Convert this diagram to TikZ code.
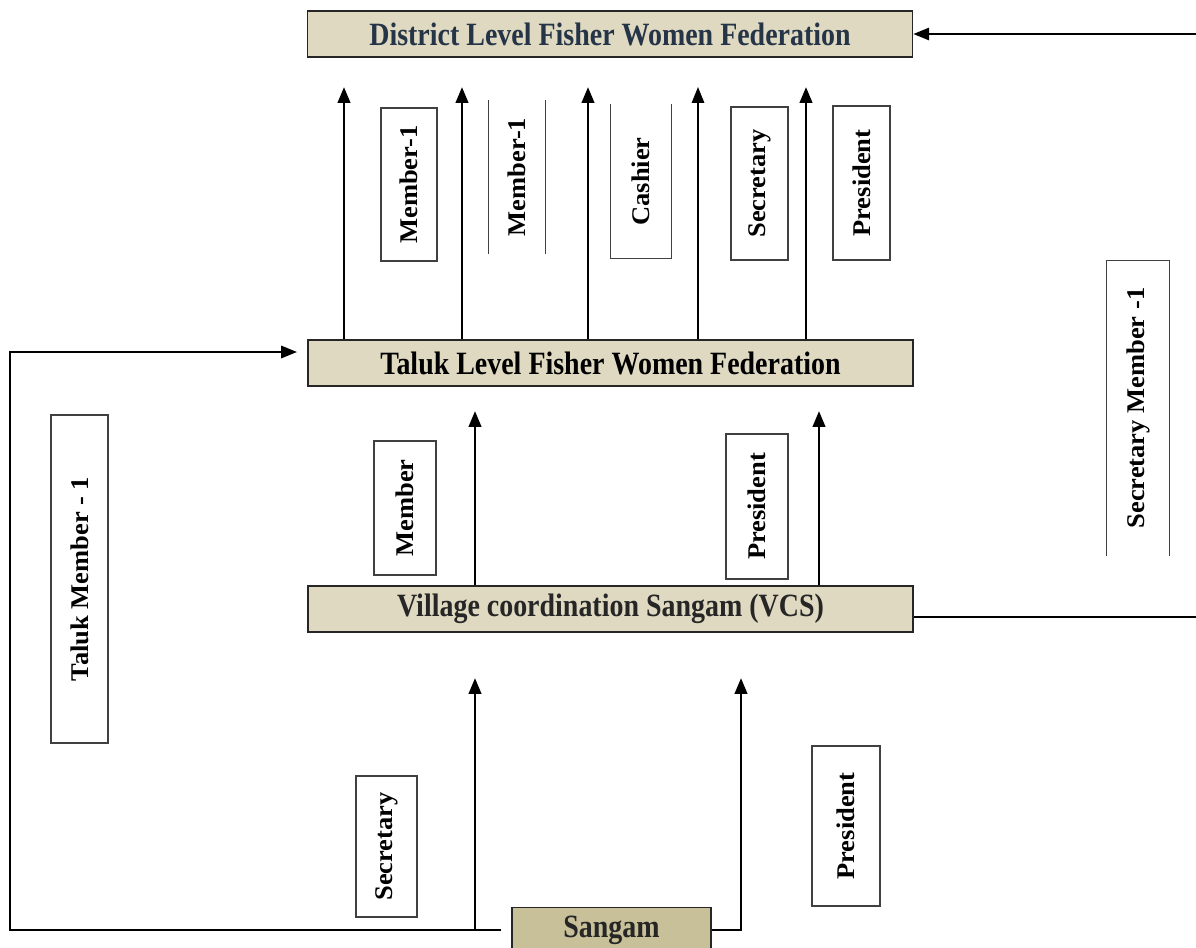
\documentclass[tikz,border=0pt]{standalone}
\usepackage{fontspec}
\setmainfont{Liberation Serif}
\newfontfamily\titlefont{Liberation Serif}[FakeStretch=0.86]
\newfontfamily\rolefont{Liberation Serif}[FakeStretch=1.04]
\usetikzlibrary{arrows.meta}

\definecolor{fedfill}{RGB}{222,217,192}
\definecolor{sangfill}{RGB}{200,192,152}
\definecolor{fednavy}{RGB}{38,52,72}

\tikzset{
    fedbox/.style={draw=black!85, line width=1pt, fill=fedfill, minimum width=12.1cm,
        minimum height=0.92cm, inner sep=0pt, font=\titlefont\fontsize{18.5}{20}\selectfont\bfseries},
    rolebox/.style 2 args={draw=black!75, line width=0.7pt, rotate=90, minimum width=#1,
        minimum height=#2, inner sep=0pt, font=\rolefont\fontsize{14.5}{16}\selectfont\bfseries},
    openbox/.style 2 args={rolebox={#1}{#2}, draw=none},
    uparrow/.style={line width=1.6pt, -{Triangle[length=9pt,width=7pt]}},
    link/.style={line width=1.2pt}
}

\begin{document}
\begin{tikzpicture}[x=0.02cm, y=-0.02cm]
    \useasboundingbox (0,0) rectangle (1196,947);

    % Federation levels
    \node[fedbox, text=fednavy] (district) at (610,34) {District Level Fisher Women Federation};
    \node[fedbox] (taluk) at (610.5,363) {Taluk Level Fisher Women Federation};
    \node[fedbox, text=black!85] (vcs) at (610.5,609) {Village coordination Sangam (VCS)};
    \node[fedbox, fill=sangfill, minimum width=3.98cm, minimum height=0.9cm, text=black!85] (sangam) at (611.5,930) {Sangam};

    % Representatives: taluk to district
    \node[rolebox={3.06cm}{1.12cm}] (tmemA) at (409,184.5) {Member-1};
    \node[openbox={3.04cm}{1.12cm}] (tmemB) at (517,177) {Member-1};
    \node[openbox={3.06cm}{1.2cm}] (tcash) at (641,181.5) {Cashier};
    \node[rolebox={3.06cm}{1.14cm}] (tsec) at (759.5,183.5) {Secretary};
    \node[rolebox={3.08cm}{1.14cm}] (tpres) at (861.5,183) {President};

    \draw[draw=black!75, line width=0.7pt] (tmemB.north west) -- (tmemB.north east);
    \draw[draw=black!75, line width=0.7pt] (tmemB.south west) -- (tmemB.south east);
    \draw[draw=black!75, line width=0.7pt] (tcash.north east) -- (tcash.north west) -- (tcash.south west) -- (tcash.south east);

    % Representatives: VCS to taluk
    \node[rolebox={2.68cm}{1.24cm}] (vmem) at (405,508) {Member};
    \node[rolebox={2.9cm}{1.24cm}] (vpres) at (757,506.5) {President};

    % Representatives: sangam to VCS
    \node[rolebox={2.82cm}{1.22cm}] (ssec) at (386.5,846.5) {Secretary};
    \node[rolebox={3.2cm}{1.36cm}] (spres) at (846,826) {President};

    % Side members
    \node[rolebox={6.56cm}{1.14cm}] (talukmem) at (79.5,579) {Taluk Member - 1};
    \node[openbox={5.88cm}{1.24cm}] (secmem) at (1138,408) {Secretary Member -1};
    \draw[draw=black!75, line width=0.7pt] (secmem.north west) -- (secmem.north east) -- (secmem.south east) -- (secmem.south west);

    % Arrow tips
    \coordinate (dA) at (344,87);
    \coordinate (dB) at (462,87);
    \coordinate (dC) at (588,87);
    \coordinate (dD) at (698,87);
    \coordinate (dE) at (806,87);
    \coordinate (tA) at (475,411);
    \coordinate (tB) at (819,411);
    \coordinate (vA) at (475,678);
    \coordinate (vB) at (741,678);
    \coordinate (rtop) at (1196,34);
    \coordinate (rvcs) at (1196,617);
    \coordinate (lbot) at (10,930);
    \coordinate (ltop) at (10,352);
    \coordinate (ltaluk) at (297,352);

    % Taluk to district
    \foreach \tip in {dA,dB,dC,dE}
        \draw[uparrow] (taluk.north -| \tip) -- (\tip);
    \draw[uparrow, line width=1pt] (taluk.north -| dD) -- (dD);

    % VCS to taluk
    \draw[uparrow] (vcs.north -| tA) -- (tA);
    \draw[uparrow] (vcs.north -| tB) -- (tB);

    % Sangam to VCS
    \draw[uparrow] (lbot -| vA) -- (vA);
    \draw[uparrow] (sangam.east) -- (sangam.east -| vB) -- (vB);

    % Outer links
    \draw[link, shorten <=6pt, -{Triangle[length=9pt,width=7pt]}] (sangam.west) -- (lbot) -- (ltop) -- (ltaluk);
    \draw[link, -{Triangle[length=9pt,width=7pt]}] (rtop) -- (district.east);
    \draw[link] (vcs.east |- rvcs) -- (rvcs);
\end{tikzpicture}
\end{document}
